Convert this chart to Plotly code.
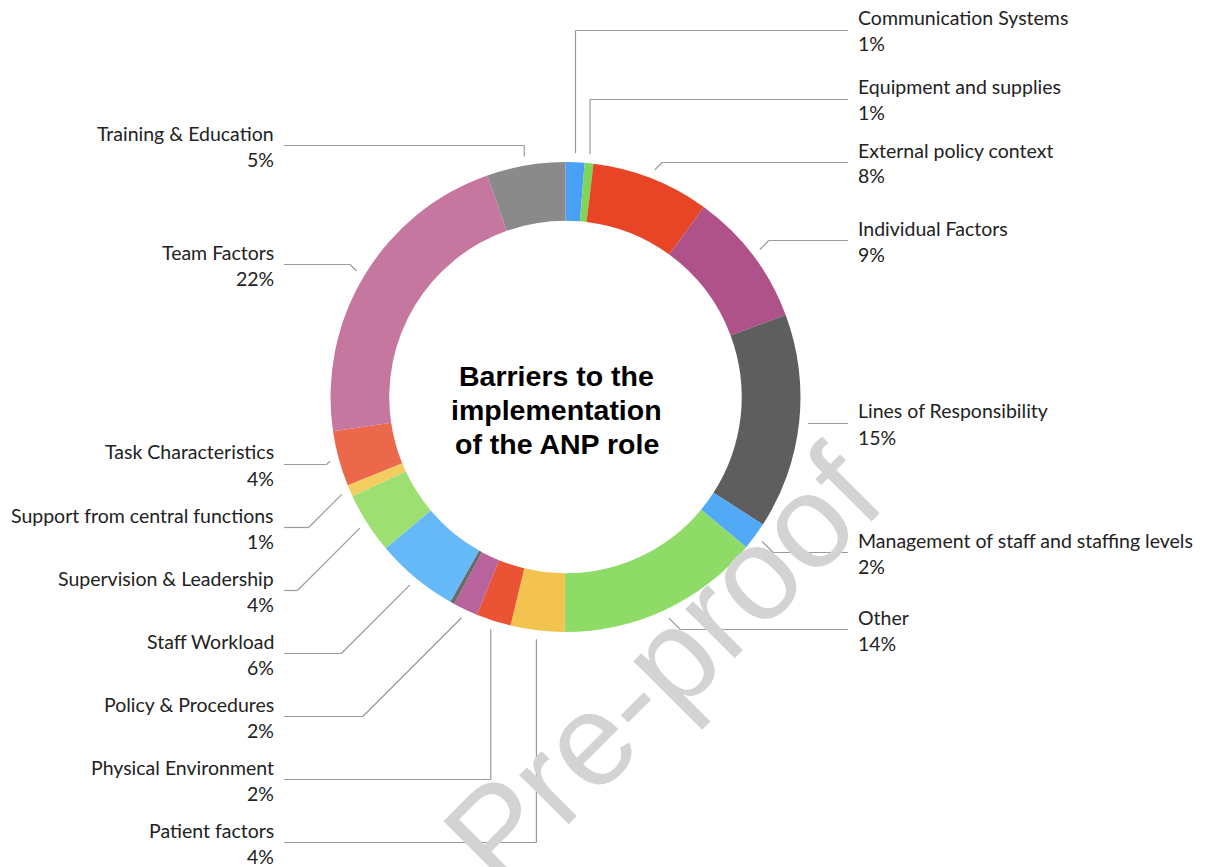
import math
import plotly.graph_objects as go

# ---------------- data ----------------
categories = [
    "Communication Systems", "Equipment and supplies", "External policy context",
    "Individual Factors", "Lines of Responsibility", "Management of staff and staffing levels",
    "Other", "Patient factors", "Physical Environment", "Policy & Procedures",
    "Unlabelled", "Staff Workload", "Supervision & Leadership",
    "Support from central functions", "Task Characteristics", "Team Factors",
    "Training & Education",
]
values = [1.3, 0.6, 8.1, 9.3, 14.8, 1.9, 14.0, 3.7, 2.4, 1.7, 0.3, 5.7, 4.2, 0.8, 3.8, 21.9, 5.4]
labelled = [True] * 10 + [False] + [True] * 6
title_lines = ["Barriers to the", "implementation", "of the ANP role"]
watermark = "Pre-proof"

# ---------------- styles / layout ----------------
colors = ["#49A0F6", "#7DD55A", "#E84526", "#B0528A", "#5E5E5E", "#52AAF7", "#8EDB67",
          "#F2C44F", "#EA5333", "#B8639C", "#6B6B6B", "#66B9F8", "#9EDF72", "#F4CD60",
          "#EC684B", "#C577A0", "#8A8A8A"]
W, H = 1206, 867
CX, CY, R_OUT = 565.5, 397.0, 235.0
HOLE = 0.75
LEADER_R = 244.0
# label name centre y (px) for each slice, and leader style ('v' vertical, 'd' 45-degree)
label_y = [18, 87, 150, 228, 411, 540, 617, 830, 767, 704, None, 641, 578, 515, 452, 252, 133]
leader_style = ["v", "v", "d", "d", "d", "d", "d", "v", "v", "d", None, "d", "d", "d", "d", "d", "v"]
RIGHT_TEXT_X, LEFT_TEXT_X = 856, 276
RIGHT_LINE_END, LEFT_LINE_END = 848, 284
LABEL_FONT = dict(family="Lato, Open Sans, sans-serif", size=19.5, color="#222222")
LINE_COLOR = "#9a9a9a"


def px(x):
    return x / W


def py(y):
    return 1 - y / H


fig = go.Figure()
fig.add_trace(go.Pie(
    labels=categories, values=values, hole=HOLE, sort=False, direction="clockwise",
    rotation=0, marker=dict(colors=colors, line=dict(width=0)),
    textinfo="none", showlegend=False,
    domain=dict(x=[px(CX - R_OUT), px(CX + R_OUT)], y=[py(CY + R_OUT), py(CY - R_OUT)]),
))

annotations = []
shapes = []

# watermark
annotations.append(dict(
    text=watermark, x=px(662), y=py(666), xref="paper", yref="paper", showarrow=False,
    textangle=-45, font=dict(family="Liberation Sans, Arial", size=132, color="#d3d3d3"),
    xanchor="center", yanchor="middle",
))

total = sum(values)
cum = 0.0
for i, v in enumerate(values):
    mid = (cum + v / 2) / total * 2 * math.pi
    cum += v
    if not labelled[i]:
        continue
    ax = CX + LEADER_R * math.sin(mid)
    ay = CY - LEADER_R * math.cos(mid)
    ly = label_y[i] + 12.5
    right = math.sin(mid) > 0
    if leader_style[i] == "v":
        ex = ax
    else:
        dy = abs(ly - ay)
        ex = ax + dy if right else ax - dy
    end_x = RIGHT_LINE_END if right else LEFT_LINE_END
    for (x0, y0, x1, y1) in [(ax, ay, ex, ly), (ex, ly, end_x, ly)]:
        shapes.append(dict(type="line", xref="paper", yref="paper",
                           x0=px(x0), y0=py(y0), x1=px(x1), y1=py(y1),
                           line=dict(color=LINE_COLOR, width=1.2)))
    pct = f"{round(v / total * 100)}%"
    tx = RIGHT_TEXT_X if right else LEFT_TEXT_X
    xa = "left" if right else "right"
    for txt, yy in [(categories[i], label_y[i]), (pct, label_y[i] + 26)]:
        annotations.append(dict(text=txt, x=px(tx), y=py(yy), xref="paper", yref="paper",
                                showarrow=False, xanchor=xa, yanchor="middle",
                                font=LABEL_FONT, align=xa))

for k, line in enumerate(title_lines):
    annotations.append(dict(
        text=f"<b>{line}</b>", x=px(CX - 9), y=py(376 + 34 * k), xref="paper", yref="paper",
        showarrow=False, xanchor="center", yanchor="middle",
        font=dict(family="Liberation Sans, Arial", size=28.5, color="#000000"),
    ))

fig.update_layout(
    width=W, height=H, margin=dict(l=0, r=0, t=0, b=0),
    paper_bgcolor="white", plot_bgcolor="white",
    annotations=annotations, shapes=shapes,
)
fig.write_html("out.html", config={"displayModeBar": False},
               post_script="document.body.style.margin='0px';document.body.style.overflow='hidden';")
